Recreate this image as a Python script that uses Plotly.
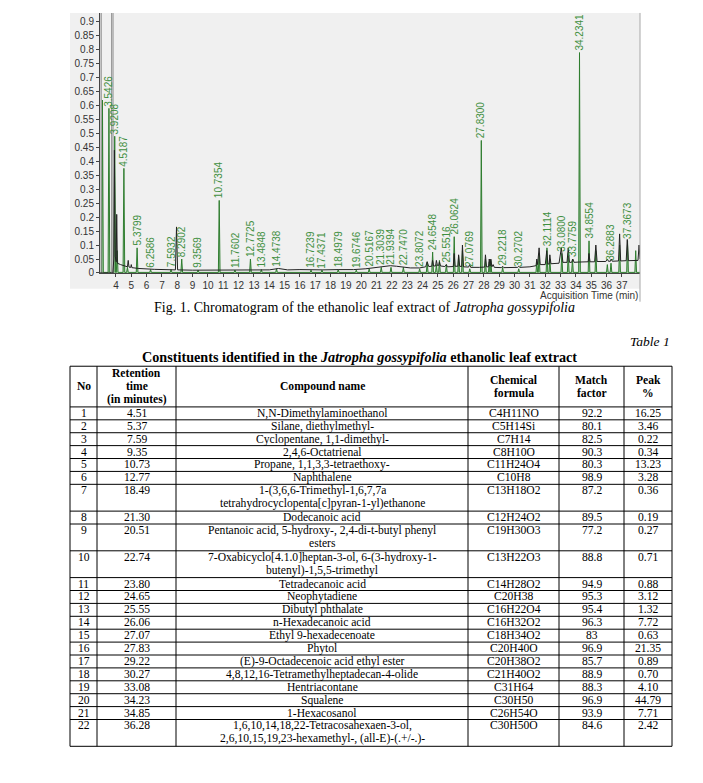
import plotly.graph_objects as go

W, H = 703, 783

# ---------------- chromatogram data ----------------
labeled_rt = ["3.5426", "3.9208", "4.5187", "5.3799", "6.2586", "7.5932", "8.2902",
              "9.3569", "10.7354", "11.7602", "12.7725", "13.4848", "14.4738", "16.7239",
              "17.4371", "18.4979", "19.6746", "20.5167", "21.3039", "21.9394", "22.7470",
              "23.8072", "24.6548", "25.5516", "26.0624", "27.0769", "27.8300", "29.2218",
              "30.2702", "32.1114", "33.0800", "33.7759", "34.2341", "34.8554", "36.2883",
              "37.3673"]
labeled_h = [0.59, 0.49, 0.375, 0.09, 0.012, 0.012, 0.05,
             0.01, 0.26, 0.01, 0.05, 0.012, 0.015, 0.01,
             0.01, 0.012, 0.01, 0.015, 0.02, 0.02, 0.02,
             0.015, 0.075, 0.03, 0.13, 0.015, 0.475, 0.02,
             0.015, 0.09, 0.07, 0.05, 0.79, 0.115, 0.035,
             0.115]
other_rt = [3.12, 4.08, 4.75, 24.3, 24.9, 25.1, 26.35, 26.6, 28.1, 28.35, 28.45,
            31.45, 31.6, 32.3, 33.5, 35.3, 36.05, 36.85, 37.9]
other_h = [0.62, 0.08, 0.02, 0.04, 0.03, 0.045, 0.06, 0.08, 0.05, 0.04, 0.045,
           0.04, 0.07, 0.05, 0.07, 0.08, 0.03, 0.1, 0.08]
offscale_rt = [2.99, 3.76]

tic_t = [2.96, 3.80, 3.86, 3.90, 3.95, 4.02, 4.05, 4.09, 4.3, 4.5, 4.75, 4.8, 4.85,
         4.97, 5.0, 5.04, 5.5, 6.5, 7.88, 7.95, 8.02, 9.0, 10.0, 11.0, 12.0, 13.0,
         14.0, 14.6, 15.2, 16.0, 16.5, 17.5, 18.5, 19.5, 20.3, 20.8, 21.3, 21.9, 22.3,
         22.7, 23.2, 23.8, 24.2, 24.3, 24.4, 24.6, 24.65, 24.72, 24.85, 24.9, 24.97,
         25.05, 25.1, 25.17, 25.45, 25.55, 25.62, 26.0, 26.06, 26.12, 26.3, 26.35,
         26.42, 26.55, 26.6, 26.67, 27.0, 27.07, 27.14, 27.7, 28.05, 28.1, 28.17, 28.3,
         28.35, 28.4, 28.45, 28.52, 28.6, 28.68, 29.15, 29.22, 29.3, 30.2, 30.27, 30.35,
         31.0, 31.4, 31.45, 31.5, 31.6, 31.67, 32.0, 32.1, 32.17, 32.25, 32.3, 32.37,
         32.9, 33.05, 33.15, 33.42, 33.5, 33.58, 33.72, 33.8, 33.88, 34.15, 34.8, 34.85,
         34.92, 35.22, 35.3, 35.38, 35.95, 36.05, 36.12, 36.25, 36.3, 36.37, 36.78,
         36.85, 36.92, 37.28, 37.35, 37.42, 38.05, 38.12, 38.18]
tic_y = [0.0, 0.0, 0.05, 0.44, 0.06, 0.04, 0.21, 0.035, 0.03, 0.026, 0.022, 0.045, 0.021,
         0.02, 0.03, 0.019, 0.016, 0.013, 0.011, 0.165, 0.011, 0.01, 0.01, 0.009, 0.009, 0.01,
         0.011, 0.016, 0.011, 0.012, 0.011, 0.011, 0.012, 0.012, 0.015, 0.018, 0.021, 0.026, 0.024,
         0.021, 0.018, 0.018, 0.022, 0.04, 0.023, 0.024, 0.045, 0.025, 0.025, 0.045, 0.026,
         0.027, 0.04, 0.025, 0.023, 0.03, 0.022, 0.023, 0.07, 0.024, 0.024, 0.065,
         0.024, 0.023, 0.1, 0.022, 0.021, 0.03, 0.02, 0.02, 0.021, 0.065, 0.022, 0.022,
         0.05, 0.025, 0.05, 0.022, 0.03, 0.02, 0.019, 0.024, 0.019, 0.02, 0.024, 0.02,
         0.022, 0.026, 0.05, 0.03, 0.09, 0.03, 0.03, 0.08, 0.032, 0.032, 0.065, 0.033,
         0.035, 0.09, 0.038, 0.038, 0.09, 0.038, 0.038, 0.05, 0.038, 0.039, 0.04, 0.07,
         0.04, 0.04, 0.1, 0.041, 0.041, 0.05, 0.042, 0.042, 0.05, 0.042, 0.043,
         0.14, 0.043, 0.044, 0.12, 0.044, 0.045, 0.1, 0.05]

x_tick_vals = list(range(4, 38))
y_tick_vals = [0, 0.05, 0.1, 0.15, 0.2, 0.25, 0.3, 0.35, 0.4, 0.45, 0.5, 0.55, 0.6,
               0.65, 0.7, 0.75, 0.8, 0.85, 0.9]
y_tick_text = ["0", "0.05", "0.1", "0.15", "0.2", "0.25", "0.3", "0.35", "0.4", "0.45",
               "0.5", "0.55", "0.6", "0.65", "0.7", "0.75", "0.8", "0.85", "0.9"]

# ---------------- table data ----------------
headers = ["No", "Retention<br>time<br>(in minutes)", "Compound name",
           "Chemical<br>formula", "Match<br>factor", "Peak<br>%"]
row_no = [str(i) for i in range(1, 23)]
ret_time = ["4.51", "5.37", "7.59", "9.35", "10.73", "12.77", "18.49", "21.30", "20.51",
            "22.74", "23.80", "24.65", "25.55", "26.06", "27.07", "27.83", "29.22", "30.27",
            "33.08", "34.23", "34.85", "36.28"]
compound = ["N,N-Dimethylaminoethanol", "Silane, diethylmethyl-", "Cyclopentane, 1,1-dimethyl-",
            "2,4,6-Octatrienal", "Propane, 1,1,3,3-tetraethoxy-", "Naphthalene",
            "1-(3,6,6-Trimethyl-1,6,7,7a<br>tetrahydrocyclopenta[c]pyran-1-yl)ethanone",
            "Dodecanoic acid",
            "Pentanoic acid, 5-hydroxy-, 2,4-di-t-butyl phenyl<br>esters",
            "7-Oxabicyclo[4.1.0]heptan-3-ol, 6-(3-hydroxy-1-<br>butenyl)-1,5,5-trimethyl",
            "Tetradecanoic acid", "Neophytadiene", "Dibutyl phthalate", "n-Hexadecanoic acid",
            "Ethyl 9-hexadecenoate", "Phytol", "(E)-9-Octadecenoic acid ethyl ester",
            "4,8,12,16-Tetramethylheptadecan-4-olide", "Hentriacontane", "Squalene",
            "1-Hexacosanol",
            "1,6,10,14,18,22-Tetracosahexaen-3-ol,<br>2,6,10,15,19,23-hexamethyl-, (all-E)-(.+/-.)-"]
formula = ["C4H11NO", "C5H14Si", "C7H14", "C8H10O", "C11H24O4", "C10H8", "C13H18O2",
           "C12H24O2", "C19H30O3", "C13H22O3", "C14H28O2", "C20H38", "C16H22O4", "C16H32O2",
           "C18H34O2", "C20H40O", "C20H38O2", "C21H40O2", "C31H64", "C30H50", "C26H54O",
           "C30H50O"]
match_factor = ["92.2", "80.1", "82.5", "90.3", "80.3", "98.9", "87.2", "89.5", "77.2", "88.8",
                "94.9", "95.3", "95.4", "96.3", "83", "96.9", "85.7", "88.9", "88.3", "96.9",
                "93.9", "84.6"]
peak_pct = ["16.25", "3.46", "0.22", "0.34", "13.23", "3.28", "0.36", "0.19", "0.27", "0.71",
            "0.88", "3.12", "1.32", "7.72", "0.63", "21.35", "0.89", "0.70", "4.10", "44.79",
            "7.71", "2.42"]

caption = "Fig. 1. Chromatogram of the ethanolic leaf extract of <i>Jatropha gossypifolia</i>"
table_label = "Table 1"
table_title = ("<b>Constituents identified in the <i>Jatropha gossypifolia</i> "
               "ethanolic leaf extract</b>")

# ---------------- layout constants (pixels) ----------------
PLOT_L, PLOT_R, PLOT_T, PLOT_B = 92, 632, 5, 267
X_RANGE = [2.96, 38.18]
Y_RANGE = [0, 0.932]
PEAK_HW = 0.055
GREEN = "#2f7d2f"
LABEL_GREEN = "#3f8f3f"

COL_EDGES = [62, 89, 168, 460, 551, 616, 664]
TABLE_TOP = 361
HEADER_H = 41
LINE_H = 13
EXTRA_LINE_H = 14
BODY_SIZE = 11.6
SERIF = "Liberation Serif"


def px(x):
    return x / W


def py(y):
    return 1 - y / H


fig = go.Figure()

# green peaks
peaks = sorted([(float(t), h) for t, h in zip(labeled_rt, labeled_h)] +
               list(zip(other_rt, other_h)))
gx, gy = [X_RANGE[0]], [0.002]
for t, h in peaks:
    gx += [t - PEAK_HW, t, t + PEAK_HW]
    gy += [0.002, h, 0.002]
gx.append(X_RANGE[1])
gy.append(0.002)
fig.add_trace(go.Scatter(x=gx, y=gy, mode="lines", fill="tozeroy",
                         fillcolor="rgba(80,160,80,0.45)",
                         line=dict(color=GREEN, width=1), hoverinfo="skip"))

# off-scale peaks
ox, oy = [], []
for t in offscale_rt:
    ox += [t, t, None]
    oy += [0, 2, None]
fig.add_trace(go.Scatter(x=ox, y=oy, mode="lines", line=dict(color="#8c8c8c", width=2.5),
                         hoverinfo="skip"))
fig.add_trace(go.Scatter(x=ox, y=oy, mode="lines", line=dict(color="#d8d8d8", width=0.8),
                         hoverinfo="skip"))

# TIC (black)
fig.add_trace(go.Scatter(x=tic_t, y=tic_y, mode="lines",
                         line=dict(color="#222222", width=1), hoverinfo="skip"))

annotations = []
for t, h in zip(labeled_rt, labeled_h):
    annotations.append(dict(x=float(t), y=h, xref="x", yref="y", text=t, textangle=-90,
                            xanchor="center", yanchor="bottom", showarrow=False,
                            font=dict(family="Liberation Sans", size=10, color=LABEL_GREEN)))

annotations.append(dict(x=px(PLOT_R), y=py(290), xref="paper", yref="paper",
                        text="Acquisition Time (min)", xanchor="right", yanchor="middle",
                        showarrow=False,
                        font=dict(family="Liberation Sans", size=10, color="#333")))

annotations.append(dict(x=px(356), y=py(302), xref="paper", yref="paper", text=caption,
                        xanchor="center", yanchor="middle", showarrow=False,
                        font=dict(family=SERIF, size=14, color="black")))
annotations.append(dict(x=px(COL_EDGES[-1]), y=py(336), xref="paper", yref="paper",
                        text="<i>" + table_label + "</i>", xanchor="right", yanchor="middle",
                        showarrow=False, font=dict(family=SERIF, size=13.5, color="black")))
annotations.append(dict(x=px(351), y=py(352), xref="paper",
                        yref="paper", text=table_title, xanchor="center", yanchor="middle",
                        showarrow=False, font=dict(family=SERIF, size=14.2, color="black")))

shapes = []
# grey panel behind the chromatogram
shapes.append(dict(type="rect", xref="paper", yref="paper", x0=px(62), x1=px(PLOT_R),
                   y0=py(283), y1=py(PLOT_T), fillcolor="#f0f0f0", line=dict(width=0),
                   layer="below"))
shapes.append(dict(type="line", xref="paper", yref="paper", x0=px(PLOT_R), x1=px(PLOT_R),
                   y0=py(296), y1=py(PLOT_T), line=dict(color="#a8a8a8", width=1)))


def cell_text(text, cx, y_first, bold=False, size=BODY_SIZE):
    for i, line in enumerate(text.split("<br>")):
        t = "<b>" + line + "</b>" if bold else line
        annotations.append(dict(x=px(cx), y=py(y_first + i * LINE_H), xref="paper",
                                yref="paper", text=t, xanchor="center", yanchor="middle",
                                showarrow=False, borderpad=0,
                                font=dict(family=SERIF, size=size, color="black")))


centers = [(COL_EDGES[i] + COL_EDGES[i + 1]) / 2 for i in range(len(COL_EDGES) - 1)]

# header
header_mid = TABLE_TOP + HEADER_H / 2
for c, htxt in zip(centers, headers):
    n = len(htxt.split("<br>"))
    cell_text(htxt, c, header_mid - (n - 1) * LINE_H / 2, bold=True, size=BODY_SIZE)

# rows
y = TABLE_TOP + HEADER_H
row_lines = [y]
for i in range(len(row_no)):
    n = len(compound[i].split("<br>"))
    h = LINE_H + (n - 1) * EXTRA_LINE_H
    vals = [row_no[i], ret_time[i], compound[i], formula[i], match_factor[i], peak_pct[i]]
    for c, v in zip(centers, vals):
        cell_text(v, c, y + 6.5)
    y += h
    row_lines.append(y)
table_bottom = y

for yl in [TABLE_TOP] + row_lines:
    shapes.append(dict(type="line", xref="paper", yref="paper", x0=px(COL_EDGES[0]),
                       x1=px(COL_EDGES[-1]), y0=py(yl), y1=py(yl),
                       line=dict(color="black", width=1)))
for xe in COL_EDGES:
    shapes.append(dict(type="line", xref="paper", yref="paper", x0=px(xe), x1=px(xe),
                       y0=py(TABLE_TOP), y1=py(table_bottom),
                       line=dict(color="black", width=1)))

fig.update_layout(
    width=W, height=H, margin=dict(l=0, r=0, t=0, b=0),
    paper_bgcolor="white", plot_bgcolor="#f0f0f0", showlegend=False,
    xaxis=dict(domain=[px(PLOT_L), px(PLOT_R)], range=X_RANGE, tickvals=x_tick_vals,
               ticks="outside", ticklen=3, tickcolor="#444", showline=True,
               linecolor="#444", linewidth=1, showgrid=False, zeroline=False,
               tickfont=dict(family="Liberation Sans", size=10, color="#333")),
    yaxis=dict(domain=[py(PLOT_B), py(PLOT_T)], range=Y_RANGE, tickvals=y_tick_vals,
               ticktext=y_tick_text, ticks="outside", ticklen=3, tickcolor="#444",
               showline=True, linecolor="#444", linewidth=1, showgrid=False,
               zeroline=False,
               tickfont=dict(family="Liberation Sans", size=10, color="#333")),
    annotations=annotations, shapes=shapes,
)

fig.write_html("out.html")
